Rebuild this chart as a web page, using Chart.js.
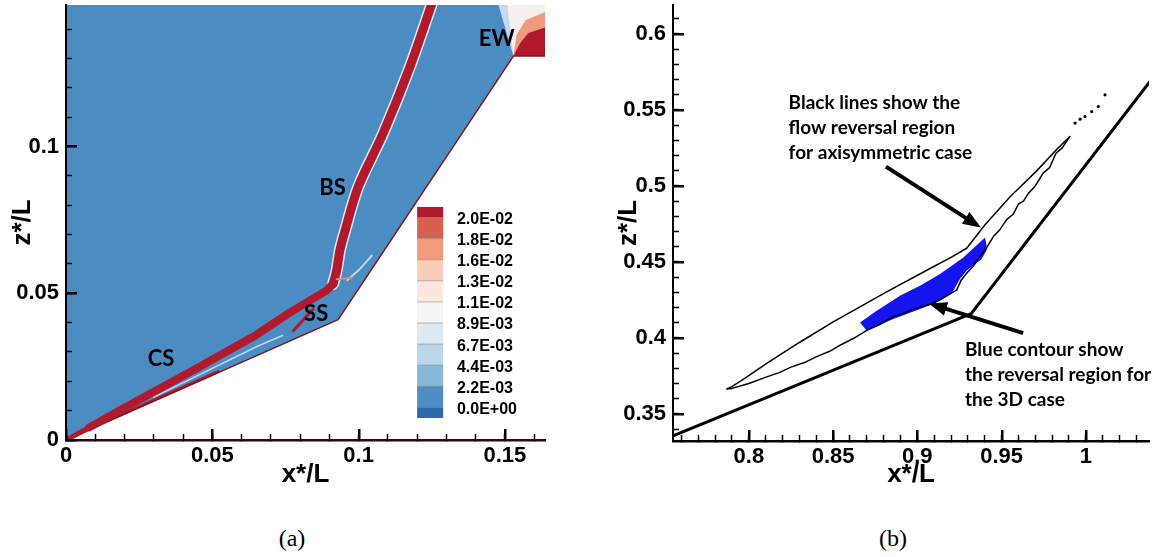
<!DOCTYPE html>
<html lang="en">
<head>
<meta charset="UTF-8">
<meta name="viewport" content="width=device-width,initial-scale=1.0">
<title>Shock structure and flow reversal region</title>
<script src="https://cdn.jsdelivr.net/npm/chart.js@4.4.1/dist/chart.umd.min.js"></script>
<style>
  html, body { margin: 0; padding: 0; background: #fff; }
  body { position: relative; width: 1163px; height: 557px; overflow: hidden; }
  canvas { position: absolute; top: 0; }
  #chartA { left: 0; }
  #chartB { left: 606px; }
  .caption { position: absolute; top: 525px; width: 80px; margin-left: -40px; text-align: center;
             font-family: "Liberation Serif", "DejaVu Serif", serif; font-size: 24px; line-height: 26px; }
</style>
</head>
<body>
<canvas id="chartA" width="560" height="490"></canvas>
<canvas id="chartB" width="557" height="490"></canvas>
<div class="caption" style="left:292px">(a)</div>
<div class="caption" style="left:893px">(b)</div>

<script>
// ---------- (a) contour map around the cone-flare, x*/L vs z*/L ----------
const fluidZone   = [[0,0],[0.093,0.041],[0.1529,0.1308],[0.1637,0.1308],[0.1637,0.1482],[0,0.1482]];
const wallA       = [[0,0],[0.093,0.041],[0.1529,0.1308],[0.1637,0.1308]];
const coneShock   = [[0,0],[0.008,0.0043],[0.020,0.0110],[0.0435,0.0238],[0.065,0.0358],[0.0766,0.0435],[0.0891,0.0510],[0.0913,0.0532]];
const bowShock    = [[0.0913,0.0532],[0.0925,0.0578],[0.0936,0.0646],[0.0950,0.0700],[0.0999,0.0863],[0.1084,0.1045],[0.1176,0.1273],[0.1255,0.1500]];
const sepShock    = [[0.0777,0.0372],[0.0810,0.0408],[0.0845,0.0446]];
const tripleJet   = [[0.0925,0.0548],[0.0976,0.0553]];
const wallLayer   = [[0,0],[0.015,0.0069],[0.035,0.0158],[0.052,0.0233]];
const shearStreak = [[0.030,0.0146],[0.050,0.0244],[0.066,0.0322],[0.074,0.0356]];
const flareStreak = [[0.0962,0.0545],[0.1000,0.0578],[0.1045,0.0628]];
const ewLight     = [[0.1529,0.1308],[0.1478,0.1482],[0.1637,0.1482],[0.1637,0.1308]];
const ewWhite     = [[0.1529,0.1308],[0.1508,0.1482],[0.1637,0.1482],[0.1637,0.1308]];
const ewOrange    = [[0.1529,0.1308],[0.1540,0.1380],[0.1570,0.1430],[0.1637,0.1458],[0.1637,0.1308]];
const ewRed       = [[0.1529,0.1308],[0.1552,0.1352],[0.1579,0.1386],[0.1637,0.1405],[0.1637,0.1308]];
const levelLabels = ['2.0E-02','1.8E-02','1.6E-02','1.3E-02','1.1E-02','8.9E-03','6.7E-03','4.4E-03','2.2E-03','0.0E+00'];
const levelColors = ['#b2182b','#d6604d','#f09c7b','#f9cdb8','#fbe7dd','#f5f5f5','#dde9f2','#bad6e9','#86b8da','#4d8fc4','#2b69ad'];
const shockNames  = ['CS','SS','BS','EW'];
const shockNameAt = [[0.0325,0.0277],[0.0855,0.0429],[0.0911,0.0860],[0.1472,0.1366]];

// ---------- (b) flow reversal regions ----------
const wallB    = [[0.750,0.3333],[0.932,0.4160],[1.040,0.5714]];
const axiLoop  = [[0.9905,0.5325],[0.9834,0.5248],[0.9704,0.5094],[0.9552,0.4930],[0.9402,0.4745],[0.9293,0.4590],
                  [0.9200,0.4530],[0.9095,0.4468],[0.8818,0.4303],[0.8501,0.4106],[0.8300,0.3970],[0.8106,0.3832],
                  [0.7980,0.3738],[0.7900,0.3680],[0.7869,0.3664],[0.7900,0.3668],[0.8000,0.3700],[0.8106,0.3744],
                  [0.8180,0.3772],[0.8250,0.3808],[0.8330,0.3838],[0.8403,0.3877],[0.8480,0.3912],[0.8550,0.3957],
                  [0.8620,0.3996],[0.8700,0.4050],[0.8780,0.4090],[0.8850,0.4137],[0.8930,0.4168],[0.8996,0.4196],
                  [0.9070,0.4218],[0.9135,0.4250],[0.9234,0.4316],[0.9260,0.4380],[0.9293,0.4426],[0.9330,0.4470],
                  [0.9372,0.4535],[0.9410,0.4590],[0.9451,0.4667],[0.9490,0.4712],[0.9530,0.4778],[0.9570,0.4815],
                  [0.9600,0.4880],[0.9630,0.4900],[0.9660,0.4952],[0.9700,0.5000],[0.9747,0.5084],[0.9785,0.5120],
                  [0.9823,0.5215],[0.9860,0.5250],[0.9905,0.5325]];
const axiTail  = [[0.9936,0.5413],[0.9966,0.5439],[0.9995,0.5456],[1.0035,0.5489],[1.0074,0.5522],[1.0114,0.5599]];
const region3D = [[0.8660,0.4102],[0.8759,0.4179],[0.8897,0.4277],[0.9016,0.4343],[0.9135,0.4420],[0.9273,0.4529],
                  [0.9402,0.4661],[0.9415,0.4585],[0.9382,0.4519],[0.9293,0.4442],[0.9253,0.4387],[0.9214,0.4310],
                  [0.9135,0.4244],[0.9016,0.4190],[0.8858,0.4124],[0.8739,0.4069],[0.8700,0.4047]];
const arrowAxi = [[0.8814,0.5127],[0.9352,0.4744]];
const arrow3D  = [[0.9628,0.4031],[0.9097,0.4217]];
const noteAxi  = ['Black lines show the', 'flow reversal region', 'for axisymmetric case'];
const note3D   = ['Blue contour show', 'the reversal region for', 'the 3D case'];
const noteAt   = [[0.8236,0.5546],[0.9283,0.3921]];

const MAJOR = 0.05, MINOR = 0.01;
const isMajor = v => Math.abs(v / MAJOR - Math.round(v / MAJOR)) < 1e-6;
const pts = arr => arr.map(([x, y]) => ({x, y}));

function patch(arr, color, order) {
  return {data: pts(arr), fill: 'shape', backgroundColor: color, borderWidth: 0,
          borderColor: 'transparent', pointRadius: 0, order, clip: 0};
}
function path(arr, color, width, order, extra) {
  return Object.assign({data: pts(arr), borderColor: color, borderWidth: width, fill: false,
          pointRadius: 0, order, clip: 0, borderJoinStyle: 'round', borderCapStyle: 'round'}, extra || {});
}

// longer major ticks, arrow heads, colour bar and text notes
const overlay = {
  id: 'overlay',
  afterDraw(chart, args, o) {
    const ctx = chart.ctx, area = chart.chartArea, sx = chart.scales.x, sy = chart.scales.y;
    ctx.save();
    ctx.fillStyle = '#000';
    sx.ticks.forEach(t => {
      if (!isMajor(t.value)) return;
      const px = sx.getPixelForValue(t.value);
      ctx.fillRect(Math.round(px) - 1, area.bottom - 11, 2.5, 11);
    });
    sy.ticks.forEach(t => {
      if (!isMajor(t.value)) return;
      const py = sy.getPixelForValue(t.value);
      ctx.fillRect(area.left, Math.round(py) - 1, 11, 2.5);
    });

    (o.arrows || []).forEach(i => {
      const d = chart.getDatasetMeta(i).data;
      const p0 = d[d.length - 2], p1 = d[d.length - 1];
      const ang = Math.atan2(p1.y - p0.y, p1.x - p0.x);
      ctx.save();
      ctx.translate(p1.x, p1.y); ctx.rotate(ang);
      ctx.fillStyle = '#000';
      ctx.beginPath(); ctx.moveTo(5, 0); ctx.lineTo(-13, -7); ctx.lineTo(-13, 7); ctx.closePath(); ctx.fill();
      ctx.restore();
    });

    if (o.colorbar) {
      const c = o.colorbar;
      const x0 = sx.getPixelForValue(c.x0), x1 = sx.getPixelForValue(c.x1);
      const top = sy.getPixelForValue(c.top), bot = sy.getPixelForValue(c.bottom);
      const unit = (bot - top) / (levelColors.length - 1);
      levelColors.forEach((col, k) => {
        const s = k === 0 ? top : top + unit * (k - 0.5);
        const e = k === levelColors.length - 1 ? bot : top + unit * (k + 0.5);
        ctx.fillStyle = col;
        ctx.fillRect(x0, s, x1 - x0, e - s);
      });
      ctx.strokeStyle = 'rgba(110,110,110,0.6)'; ctx.lineWidth = 0.8;
      for (let k = 0; k < levelLabels.length; k++) {
        const b = top + unit * (k + 0.5);
        ctx.beginPath(); ctx.moveTo(x0, b); ctx.lineTo(x1, b); ctx.stroke();
      }
      ctx.fillStyle = '#000';
      ctx.font = 'bold 16px "Liberation Sans", Arial, sans-serif';
      ctx.textAlign = 'left'; ctx.textBaseline = 'middle';
      const lx = sx.getPixelForValue(c.label);
      levelLabels.forEach((t, k) => ctx.fillText(t, lx, top + unit * (k + 0.5) + 2));
    }

    (o.notes || []).forEach(n => {
      ctx.fillStyle = '#000';
      ctx.font = n.font;
      ctx.textAlign = n.align; ctx.textBaseline = 'middle';
      const nx = sx.getPixelForValue(n.at[0]), ny = sy.getPixelForValue(n.at[1]);
      n.lines.forEach((t, k) => ctx.fillText(t, nx, ny + k * (n.step || 0)));
    });
    ctx.restore();
  }
};

// one short tick every 0.01 pointing into the plot, labels every 0.05
function axes(xr, yr, yWidth, xHeight, xBorder) {
  const tickFont = {family: '"Liberation Sans", Arial, sans-serif', weight: 'bold', size: 22};
  const titleFont = {family: '"Liberation Sans", Arial, sans-serif', weight: 'bold', size: 26};
  const label = v => isMajor(v) ? String(+v.toFixed(2)) : '';
  const grid = {display: true, drawOnChartArea: false, drawTicks: true, tickLength: -6,
                tickWidth: 1.5, tickColor: '#000', z: 2};
  return {
    x: {type: 'linear', position: 'bottom', min: xr[0], max: xr[1],
        grid: grid,
        border: {display: true, color: xBorder, width: 2.5, z: 3},
        ticks: {stepSize: MINOR, includeBounds: false, autoSkip: false, maxRotation: 0, minRotation: 0,
                padding: 9, color: '#000', font: tickFont, callback: label},
        title: {display: true, text: 'x*/L', color: '#000', font: titleFont, padding: {top: 0, bottom: 0}},
        afterFit: s => { s.height = xHeight; s.paddingLeft = 0; s.paddingRight = 0; }},
    y: {type: 'linear', position: 'left', min: yr[0], max: yr[1],
        grid: grid,
        border: {display: true, color: '#000', width: 2, z: 3},
        ticks: {stepSize: MINOR, includeBounds: false, autoSkip: false, padding: 13,
                color: '#000', font: tickFont, callback: label},
        title: {display: true, text: 'z*/L', color: '#000', font: titleFont, padding: {top: 7, bottom: 0}},
        afterFit: s => { s.width = yWidth; s.paddingTop = 0; s.paddingBottom = 0; }}
  };
}

const common = {
  responsive: false, animation: false, events: [],
  plugins: {legend: {display: false}, tooltip: {enabled: false}}
};

new Chart(document.getElementById('chartA'), {
  type: 'line',
  data: {datasets: [
    patch(fluidZone, '#4b8dc3', 30),
    patch(ewLight, '#c3dbec', 29),
    patch(ewWhite, '#f6efeb', 28),
    patch(ewOrange, '#ef9a7c', 27),
    patch(ewRed, '#b2182b', 26),
    path(shearStreak, 'rgba(214,230,243,0.85)', 1.6, 25),
    path(flareStreak, 'rgba(214,230,243,0.85)', 2, 25),
    path(wallLayer, '#b2182b', 3, 24),
    path(wallA, '#7a1620', 1.5, 23),
    path(bowShock, '#dce9f3', 12, 22, {tension: 0.3}),
    path(coneShock, '#b3192c', 8, 21, {segment: {borderWidth: c => c.p0DataIndex < 1 ? 5 : 8}}),
    path(bowShock, '#b3192c', 9, 21, {tension: 0.3}),
    path(sepShock, '#b3192c', 3, 20),
    path(tripleJet, '#e8826a', 2, 20)
  ]},
  options: Object.assign({}, common, {
    layout: {padding: {top: 5, right: 15, bottom: 0, left: 0}},
    scales: axes([0, 0.1637], [0, 0.1482], 66, 50, '#2e0a0a'),
    plugins: Object.assign({}, common.plugins, {overlay: {
      colorbar: {x0: 0.1200, x1: 0.1289, top: 0.0794, bottom: 0.0075, label: 0.1336},
      notes: shockNames.map((t, k) => ({lines: [t], at: shockNameAt[k], align: 'center',
              font: 'bold 22px Lato, "Open Sans", sans-serif'}))
    }})
  }),
  plugins: [overlay]
});

new Chart(document.getElementById('chartB'), {
  type: 'line',
  data: {datasets: [
    patch(region3D, '#1414ee', 30),
    path(axiLoop, '#000', 1.5, 20),
    {data: pts(axiTail), showLine: false, pointRadius: 1.6, pointBackgroundColor: '#000',
     pointBorderWidth: 0, order: 20, clip: 0},
    path(wallB, '#000', 3, 19, {borderCapStyle: 'butt'}),
    path(arrowAxi, '#000', 4, 10, {borderCapStyle: 'butt'}),
    path(arrow3D, '#000', 4, 10, {borderCapStyle: 'butt'})
  ]},
  options: Object.assign({}, common, {
    layout: {padding: {top: 5, right: 14, bottom: 0, left: 0}},
    scales: axes([0.755, 1.0375], [0.3322, 0.619], 67, 49, '#000'),
    plugins: Object.assign({}, common.plugins, {overlay: {
      arrows: [4, 5],
      notes: [
        {lines: noteAxi, at: noteAt[0], align: 'left', step: 25, font: 'bold 19px Lato, "Open Sans", sans-serif'},
        {lines: note3D, at: noteAt[1], align: 'left', step: 25, font: 'bold 19px Lato, "Open Sans", sans-serif'}
      ]
    }})
  }),
  plugins: [overlay]
});
</script>
</body>
</html>
